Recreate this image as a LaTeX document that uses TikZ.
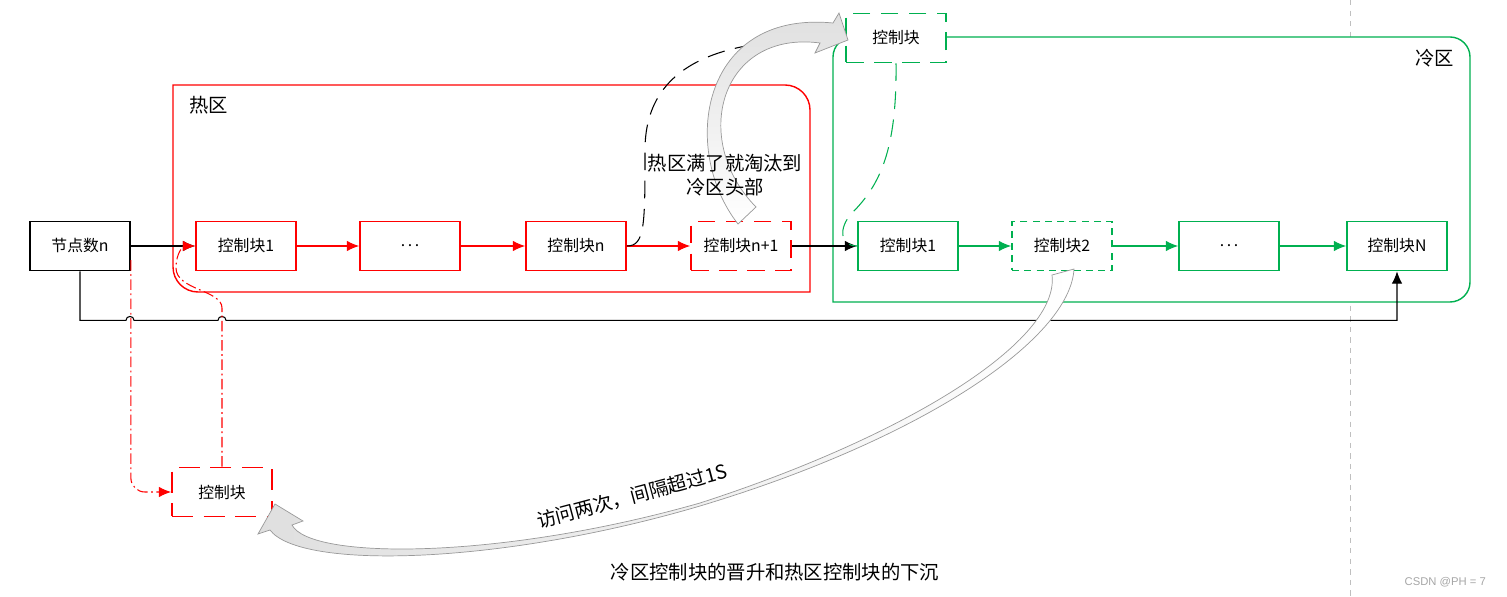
\documentclass[tikz,border=0pt]{standalone}
\usepackage{fontspec}
\setmainfont{Noto Sans CJK SC}
\newfontfamily\wmfont{Liberation Sans}
\usetikzlibrary{arrows.meta}

\definecolor{hotred}{RGB}{255,0,0}
\definecolor{coldgreen}{RGB}{0,176,80}

\begin{document}
\begin{tikzpicture}
		[x=0.02cm, y=-0.02cm,
		>={Latex[length=7pt,width=6pt]},
		blk/.style={font=\fontsize{9}{11}\selectfont,minimum width=2cm,minimum height=0.98cm,inner sep=0pt,line width=1pt,draw,fill=white},
		hb/.style={blk,draw=hotred},
		cb/.style={blk,draw=coldgreen},
		wire/.style={draw=black,line width=0.6pt},
		hotline/.style={draw=hotred,line width=0.6pt},
		coldline/.style={draw=coldgreen,line width=0.6pt},
		longdash/.style={dash pattern=on 12pt off 6pt},
		widedash/.style={dash pattern=on 10pt off 6pt},
		shortdash/.style={dash pattern=on 4pt off 3pt},
		dashdotline/.style={dash pattern=on 6pt off 2pt on 1pt off 2pt},
		fatarrow/.style={draw=gray!80,line width=0.4pt},
		big/.style={font=\fontsize{11}{13.6}\selectfont}]

		\useasboundingbox (0,0) rectangle (1507,597);

		\draw[gray!50, dashed] (1350,0) -- (1350,597);

		\draw[hotred, line width=0.8pt] (173,85) -- (785,85) arc[start angle=90, end angle=0, radius=0.5cm]
			-- (810,292) -- (198,292) arc[start angle=270, end angle=180, radius=0.5cm] -- cycle;
		\draw[coldgreen, line width=0.8pt, fill=white] (833,302) -- (833,57) arc[start angle=180, end angle=90, radius=0.4cm]
			-- (1450,37) arc[start angle=90, end angle=0, radius=0.4cm]
			-- (1470,282) arc[start angle=0, end angle=-90, radius=0.4cm] -- cycle;

		\node[big, anchor=west] (hotname) at (183,105) {热区};
		\node[big, anchor=east] (coldname) at (1460,58) {冷区};

		\node[blk] (num) at (80,246) {节点数n};

		\node[hb] (h1) at (246,246) {控制块1}
			edge [<-, wire]	(num)
		;
		\node[hb] (h2) at (410,246) {.\,.\,.}
			edge [<-, hotline]	(h1)
		;
		\node[hb] (h3) at (576,246) {控制块n}
			edge [<-, hotline]	(h2)
		;
		\node[hb, widedash] (h4) at (741,246) {控制块n+1}
			edge [<-, hotline]	(h3)
		;

		\node[cb] (c1) at (908,246) {控制块1}
			edge [<-, wire]	(h4)
		;
		\node[cb, shortdash] (c2) at (1062,246) {控制块2}
			edge [<-, coldline]	(c1)
		;
		\node[cb] (c3) at (1229,246) {.\,.\,.}
			edge [<-, coldline]	(c2)
		;
		\node[cb] (c4) at (1397,246) {控制块N}
			edge [<-, coldline]	(c3)
		;

		\node[cb, widedash] (up) at (896,38) {控制块};
		\node[hb, longdash] (down) at (222,492) {控制块};

		\draw[wire, ->] (num.south) -- ++(0,49) -- ++(46,0) arc[start angle=180, end angle=0, radius=0.08cm]
			-- ++(84,0) arc[start angle=180, end angle=0, radius=0.08cm] -| (c4.south);

		\draw[hotline, dashdotline, ->, rounded corners=8pt] ([yshift=-8pt]num.east) |- (down.west);
		\draw[hotline, dashdotline, ->] (down.north) -- (222,308) .. controls (222,290) and (176,290) .. (176,268)
			.. controls (176,252) and (184,246) .. (h1.west);

		\coordinate (fall) at (808,40);
		\draw[wire, widedash] (h3.east) .. controls (645,246) and (645,225) .. (645,150)
			.. controls (645,65) and (720,42) .. (fall);
		\draw[coldline, widedash] (up.south) .. controls (897,150) and (880,185) .. (852,213)
			.. controls (838,228) and (840,246) .. (c1.west);

		\draw[fatarrow, top color=gray!25, bottom color=white] (738,224) .. controls (680,150) and (700,10) .. (833,23)
			-- (839,13) -- (848,40) -- (815,53) -- (820,43) .. controls (720,30) and (690,140) .. (756,207) -- cycle;
		\draw[fatarrow, left color=gray!25, right color=white] (1074,269) .. controls (1070,340) and (920,440) .. (700,506)
			.. controls (500,565) and (300,570) .. (270,530) -- (258,534) -- (275,504) -- (303,521) -- (292,525)
			.. controls (310,560) and (500,560) .. (700,503) .. controls (910,435) and (1060,340) .. (1052,275) -- cycle;

		\node[big, align=center] (evict) at (725,175) {热区满了就淘汰到\\冷区头部};
		\node[big, rotate=15] (twice) at (632,496) {访问两次，间隔超过1S};
		\node[big] (caption) at (775,572) {冷区控制块的晋升和热区控制块的下沉};
		\node[anchor=east, gray!70, font=\wmfont\fontsize{6.4}{8}\selectfont] (mark) at (1492,582) {CSDN @PH = 7};

	\end{tikzpicture}
\end{document}
